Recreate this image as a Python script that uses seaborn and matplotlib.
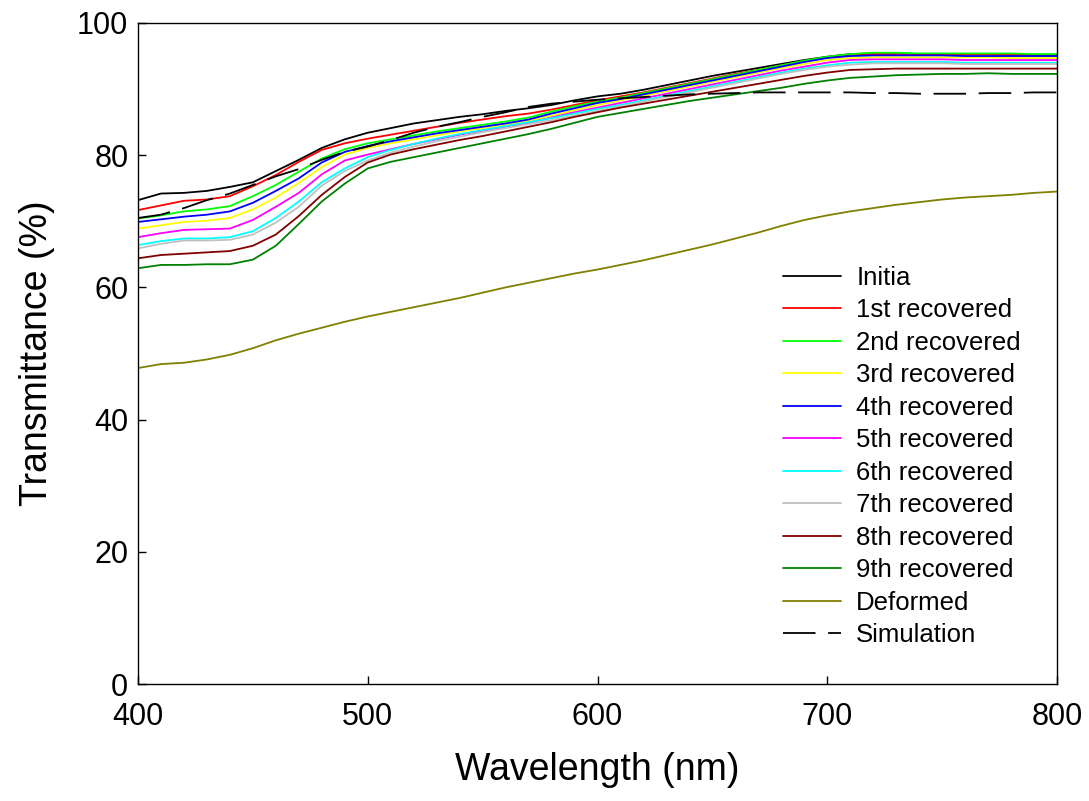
import matplotlib
matplotlib.use("Agg")
import matplotlib.pyplot as plt
from matplotlib.lines import Line2D
import numpy as np
import pandas as pd
import seaborn as sns

wavelength = list(range(400, 801, 10))

initia = [73.2, 74.2, 74.3, 74.6, 75.2, 75.9, 77.6, 79.3, 81.1, 82.4, 83.4, 84.1, 84.8, 85.3, 85.8, 86.2, 86.7, 87.1, 87.6, 88.3,
          88.9, 89.3, 89.9, 90.6, 91.3, 92.0, 92.6, 93.2, 93.8, 94.4, 94.9, 95.3, 95.4, 95.4, 95.3, 95.3, 95.3, 95.3, 95.2, 95.2, 95.2]
rec1 = [71.7, 72.4, 73.1, 73.3, 73.8, 75.3, 77.0, 79.0, 80.8, 81.8, 82.5, 83.1, 83.7, 84.3, 84.9, 85.4, 85.9, 86.3, 86.9, 87.6,
        88.3, 88.9, 89.5, 90.2, 90.9, 91.6, 92.3, 92.9, 93.6, 94.2, 94.8, 95.2, 95.3, 95.3, 95.3, 95.2, 95.2, 95.2, 95.2, 95.1, 95.1]
rec2 = [70.4, 70.9, 71.5, 71.8, 72.3, 73.8, 75.5, 77.5, 79.5, 80.9, 81.8, 82.4, 83.0, 83.6, 84.1, 84.6, 85.1, 85.7, 86.6, 87.4,
        88.1, 88.7, 89.4, 90.1, 90.8, 91.5, 92.2, 92.9, 93.6, 94.3, 94.9, 95.3, 95.5, 95.5, 95.4, 95.4, 95.4, 95.4, 95.4, 95.3, 95.3]
rec3 = [68.9, 69.4, 69.9, 70.1, 70.5, 71.8, 73.6, 75.8, 78.2, 80.1, 81.1, 81.8, 82.4, 83.0, 83.6, 84.1, 84.6, 85.2, 86.0, 86.8,
        87.6, 88.3, 89.0, 89.7, 90.4, 91.1, 91.8, 92.5, 93.2, 93.8, 94.4, 94.7, 94.8, 94.8, 94.8, 94.8, 94.8, 94.8, 94.7, 94.7, 94.7]
rec4 = [69.9, 70.3, 70.7, 71.0, 71.5, 72.8, 74.6, 76.5, 78.9, 80.5, 81.4, 82.1, 82.7, 83.3, 83.8, 84.3, 84.8, 85.4, 86.3, 87.1,
        87.9, 88.5, 89.2, 89.9, 90.6, 91.3, 92.0, 92.7, 93.4, 94.1, 94.7, 95.0, 95.1, 95.1, 95.1, 95.1, 95.0, 95.0, 95.0, 95.0, 95.0]
rec5 = [67.6, 68.2, 68.7, 68.8, 68.9, 70.2, 72.2, 74.3, 77.1, 79.2, 80.1, 80.9, 81.7, 82.4, 83.1, 83.7, 84.3, 84.9, 85.7, 86.5,
        87.2, 87.9, 88.6, 89.3, 90.0, 90.7, 91.4, 92.1, 92.8, 93.4, 94.0, 94.4, 94.5, 94.5, 94.5, 94.5, 94.4, 94.4, 94.4, 94.4, 94.4]
rec6 = [66.4, 67.0, 67.4, 67.4, 67.6, 68.5, 70.5, 73.0, 75.9, 78.0, 79.7, 80.8, 81.7, 82.5, 83.2, 83.8, 84.4, 85.0, 85.6, 86.3,
        87.0, 87.6, 88.3, 89.0, 89.7, 90.4, 91.1, 91.8, 92.5, 93.1, 93.6, 94.0, 94.1, 94.1, 94.1, 94.1, 94.0, 94.0, 94.0, 94.0, 94.0]
rec7 = [65.9, 66.6, 67.1, 67.1, 67.2, 68.0, 69.8, 72.2, 75.4, 77.6, 79.2, 80.4, 81.3, 82.1, 82.8, 83.5, 84.1, 84.7, 85.3, 86.0,
        86.7, 87.4, 88.1, 88.8, 89.5, 90.2, 90.9, 91.6, 92.3, 92.9, 93.4, 93.7, 93.9, 93.9, 93.9, 93.9, 93.8, 93.8, 93.8, 93.8, 93.8]
rec8 = [64.4, 64.9, 65.1, 65.3, 65.5, 66.3, 68.0, 70.8, 74.0, 76.7, 78.9, 80.1, 80.9, 81.6, 82.3, 82.9, 83.6, 84.3, 85.0, 85.8,
        86.5, 87.2, 87.8, 88.4, 89.0, 89.6, 90.2, 90.8, 91.4, 92.0, 92.5, 92.9, 93.0, 93.1, 93.1, 93.1, 93.1, 93.1, 93.1, 93.1, 93.1]
rec9 = [62.9, 63.4, 63.4, 63.5, 63.5, 64.2, 66.3, 69.6, 73.0, 75.7, 78.0, 79.0, 79.7, 80.4, 81.1, 81.8, 82.5, 83.2, 84.0, 84.9,
        85.8, 86.4, 87.0, 87.6, 88.2, 88.7, 89.2, 89.7, 90.2, 90.8, 91.3, 91.7, 91.9, 92.1, 92.2, 92.3, 92.3, 92.4, 92.3, 92.3, 92.3]
deformed = [47.8, 48.4, 48.6, 49.1, 49.8, 50.8, 52.0, 53.0, 53.9, 54.8, 55.6, 56.3, 57.0, 57.7, 58.4, 59.2, 60.0, 60.7, 61.4, 62.1,
            62.7, 63.4, 64.1, 64.9, 65.7, 66.5, 67.4, 68.3, 69.3, 70.2, 70.9, 71.5, 72.0, 72.5, 72.9, 73.3, 73.6, 73.8, 74.0, 74.3, 74.5]
simulation = [70.5, 71.0, 72.0, 73.2, 74.2, 75.5, 76.8, 77.9, 79.3, 80.5, 81.3, 82.3, 83.4, 84.3, 85.0, 85.8, 86.5, 87.3, 87.8, 88.1,
              88.4, 88.6, 88.8, 89.0, 89.2, 89.3, 89.4, 89.5, 89.5, 89.5, 89.5, 89.5, 89.4, 89.4, 89.3, 89.3, 89.3, 89.4, 89.4, 89.5, 89.5]

labels = ["Initia", "1st recovered", "2nd recovered", "3rd recovered", "4th recovered", "5th recovered",
          "6th recovered", "7th recovered", "8th recovered", "9th recovered", "Deformed"]
series = [initia, rec1, rec2, rec3, rec4, rec5, rec6, rec7, rec8, rec9, deformed]
colors = ["#000000", "#FF0000", "#00FF00", "#FFFF00", "#0000FF", "#FF00FF",
          "#00FFFF", "#C0C0C0", "#800000", "#008000", "#808000"]
sim_label = "Simulation"

sns.set_style("ticks")
plt.rcParams['font.family'] = ['Liberation Sans', 'DejaVu Sans']
plt.rcParams['text.color'] = 'black'
plt.rcParams['axes.labelcolor'] = 'black'
plt.rcParams['xtick.color'] = 'black'
plt.rcParams['ytick.color'] = 'black'

fig = plt.figure(figsize=(10.89, 8.01), dpi=100)
ax = fig.add_axes([138 / 1089, 1 - 684 / 801, (1057 - 138) / 1089, (684 - 23) / 801])

lw = 1.3
df = pd.concat([pd.DataFrame({"Wavelength": wavelength, "T": vals, "Sample": lab})
                for lab, vals in zip(labels, series)], ignore_index=True)
sns.lineplot(data=df, x="Wavelength", y="T", hue="Sample", hue_order=labels,
             palette=colors, linewidth=lw, legend=False, ax=ax, sort=False)
sns.lineplot(x=wavelength, y=simulation, color="black", linewidth=lw,
             linestyle=(0, (18, 7)), ax=ax, legend=False)

ax.set_xlim(400, 800)
ax.set_ylim(0, 100)
ax.set_xticks([400, 500, 600, 700, 800])
ax.set_yticks([0, 20, 40, 60, 80, 100])
ax.tick_params(direction="in", length=6, width=1, labelsize=22, top=False, right=False,
               colors="black", labelcolor="black")
ax.tick_params(axis="x", pad=13)
ax.tick_params(axis="y", pad=7)
for s in ax.spines.values():
    s.set_visible(True)
    s.set_color("black")
    s.set_linewidth(1.0)
ax.set_xlabel("Wavelength (nm)", fontsize=27, labelpad=14, color="black")
ax.set_ylabel("Transmittance (%)", fontsize=27, labelpad=16, color="black")

handles = [Line2D([], [], color=c, linewidth=lw) for c in colors]
handles.append(Line2D([], [], color="black", linewidth=lw, linestyle=(0, (18, 7))))
leg = ax.legend(handles, labels + [sim_label], loc="upper left",
                bbox_to_anchor=(783 / 1089, 1 - 266 / 801), bbox_transform=fig.transFigure,
                frameon=False, fontsize=18.5, handlelength=2.25, handletextpad=0.6,
                labelspacing=0.33, borderaxespad=0, borderpad=0)
for t in leg.get_texts():
    t.set_color("black")

fig.savefig("out.png", dpi=100)
